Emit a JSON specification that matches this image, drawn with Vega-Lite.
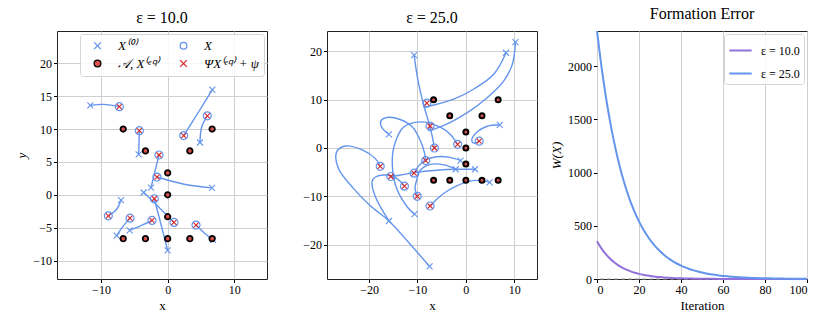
{
"$schema": "https://vega.github.io/schema/vega-lite/v6.json",
"padding": {"left": 15, "top": 5, "right": 5, "bottom": 5},
"spacing": 60,
"bounds": "flush",
"resolve": {"scale": {"shape": "independent", "fill": "independent", "stroke": "independent", "size": "independent", "strokeWidth": "independent"}, "legend": {"shape": "independent", "fill": "independent", "stroke": "independent"}},
"config": {
  "font": "Liberation Serif",
  "view": {"stroke": "#222222", "strokeWidth": 1},
  "axis": {"labelFont": "Liberation Serif", "labelFontSize": 12, "labelColor": "#000000", "titleFont": "Liberation Serif", "titleFontSize": 13, "titleFontWeight": "normal", "titleColor": "#000000", "tickColor": "#000000", "tickSize": 3.5, "domain": false, "gridColor": "#cfcfcf", "gridWidth": 1, "labelPadding": 2, "titlePadding": 4},
  "title": {"font": "Liberation Serif", "fontSize": 16, "fontWeight": "normal", "frame": "group", "offset": 5, "color": "#000000"},
  "legend": {"labelFont": "Liberation Serif", "labelFontSize": 12, "labelColor": "#000000"}
},
"datasets": {
  "pts1": [
    {"s":"b","x":-7.25,"y":13.4},{"s":"b","x":-4.25,"y":9.75},{"s":"b","x":2.4,"y":9.0},{"s":"b","x":5.95,"y":12.0},
    {"s":"b","x":-1.3,"y":6.05},{"s":"b","x":-1.6,"y":2.7},{"s":"b","x":0.95,"y":-4.2},{"s":"b","x":-2.0,"y":-0.6},
    {"s":"b","x":-8.9,"y":-3.2},{"s":"b","x":-5.65,"y":-3.55},{"s":"b","x":-2.35,"y":-3.9},{"s":"b","x":4.25,"y":-4.6},
    {"s":"a","x":-11.6,"y":13.6},{"s":"a","x":-4.35,"y":6.15},{"s":"a","x":6.7,"y":16.0},{"s":"a","x":4.85,"y":7.95},
    {"s":"a","x":-2.5,"y":1.1},{"s":"a","x":6.65,"y":1.05},{"s":"a","x":-3.6,"y":0.35},{"s":"a","x":0,"y":-8.45},
    {"s":"a","x":-7.0,"y":-0.8},{"s":"a","x":-7.65,"y":-6.2},{"s":"a","x":-5.7,"y":-5.4},{"s":"a","x":6.8,"y":-6.85},
    {"s":"c","x":-6.67,"y":10},{"s":"c","x":6.67,"y":10},{"s":"c","x":-3.33,"y":6.67},{"s":"c","x":3.33,"y":6.67},
    {"s":"c","x":0,"y":3.33},{"s":"c","x":0,"y":0},{"s":"c","x":0,"y":-3.33},
    {"s":"c","x":-6.67,"y":-6.67},{"s":"c","x":-3.33,"y":-6.67},{"s":"c","x":0,"y":-6.67},{"s":"c","x":3.33,"y":-6.67},{"s":"c","x":6.67,"y":-6.67},
    {"s":"d","x":-7.25,"y":13.4},{"s":"d","x":-4.25,"y":9.75},{"s":"d","x":2.4,"y":9.0},{"s":"d","x":5.95,"y":12.0},
    {"s":"d","x":-1.3,"y":6.05},{"s":"d","x":-1.6,"y":2.7},{"s":"d","x":0.95,"y":-4.2},{"s":"d","x":-2.0,"y":-0.6},
    {"s":"d","x":-8.9,"y":-3.2},{"s":"d","x":-5.65,"y":-3.55},{"s":"d","x":-2.35,"y":-3.9},{"s":"d","x":4.25,"y":-4.6}
  ],
  "tr1": [
    {"a":1,"k":0,"x":-11.6,"y":13.6},{"a":1,"k":1,"x":-9.6,"y":13.75},{"a":1,"k":2,"x":-7.25,"y":13.4},
    {"a":2,"k":0,"x":-4.35,"y":6.15},{"a":2,"k":1,"x":-4.3,"y":8.0},{"a":2,"k":2,"x":-4.25,"y":9.75},
    {"a":3,"k":0,"x":6.7,"y":16.0},{"a":3,"k":1,"x":4.7,"y":12.7},{"a":3,"k":2,"x":2.4,"y":9.0},
    {"a":4,"k":0,"x":4.85,"y":7.95},{"a":4,"k":1,"x":5.1,"y":10.3},{"a":4,"k":2,"x":5.95,"y":12.0},
    {"a":5,"k":0,"x":-2.5,"y":1.1},{"a":5,"k":1,"x":-1.9,"y":3.6},{"a":5,"k":2,"x":-1.3,"y":6.05},
    {"a":6,"k":0,"x":6.65,"y":1.05},{"a":6,"k":1,"x":2.5,"y":1.6},{"a":6,"k":2,"x":-1.6,"y":2.7},
    {"a":7,"k":0,"x":-3.6,"y":0.35},{"a":7,"k":1,"x":-1.4,"y":-1.8},{"a":7,"k":2,"x":0.95,"y":-4.2},
    {"a":8,"k":0,"x":0,"y":-8.45},{"a":8,"k":1,"x":-1.0,"y":-4.5},{"a":8,"k":2,"x":-2.0,"y":-0.6},
    {"a":9,"k":0,"x":-7.0,"y":-0.8},{"a":9,"k":1,"x":-7.65,"y":-2.2},{"a":9,"k":2,"x":-8.9,"y":-3.2},
    {"a":10,"k":0,"x":-7.65,"y":-6.2},{"a":10,"k":1,"x":-6.7,"y":-4.8},{"a":10,"k":2,"x":-5.65,"y":-3.55},
    {"a":11,"k":0,"x":-5.7,"y":-5.4},{"a":11,"k":1,"x":-4.0,"y":-4.7},{"a":11,"k":2,"x":-2.35,"y":-3.9},
    {"a":12,"k":0,"x":6.8,"y":-6.85},{"a":12,"k":1,"x":5.5,"y":-5.8},{"a":12,"k":2,"x":4.25,"y":-4.6}
  ],
  "pts2": [
    {"s":"b","x":-8.05,"y":9.3},{"s":"b","x":-7.4,"y":4.55},{"s":"b","x":-6.5,"y":0.0},{"s":"b","x":-1.7,"y":0.76},
    {"s":"b","x":2.75,"y":1.4},{"s":"b","x":-8.3,"y":-2.6},{"s":"b","x":-17.7,"y":-3.8},{"s":"b","x":-15.5,"y":-5.9},
    {"s":"b","x":-10.7,"y":-5.2},{"s":"b","x":-12.7,"y":-7.9},{"s":"b","x":-10.05,"y":-10.0},{"s":"b","x":-7.4,"y":-12.0},
    {"s":"a","x":-10.7,"y":19.2},{"s":"a","x":8.3,"y":19.7},{"s":"a","x":10.25,"y":21.9},{"s":"a","x":-15.9,"y":2.8},
    {"s":"a","x":7.0,"y":4.8},{"s":"a","x":-1.1,"y":-2.6},{"s":"a","x":-2.1,"y":-4.4},{"s":"a","x":1.9,"y":-4.4},
    {"s":"a","x":4.9,"y":-7.1},{"s":"a","x":-10.6,"y":-13.7},{"s":"a","x":-15.9,"y":-15.1},{"s":"a","x":-7.5,"y":-24.5},
    {"s":"c","x":-6.67,"y":10},{"s":"c","x":6.67,"y":10},{"s":"c","x":-3.33,"y":6.67},{"s":"c","x":3.33,"y":6.67},
    {"s":"c","x":0,"y":3.33},{"s":"c","x":0,"y":0},{"s":"c","x":0,"y":-3.33},
    {"s":"c","x":-6.67,"y":-6.67},{"s":"c","x":-3.33,"y":-6.67},{"s":"c","x":0,"y":-6.67},{"s":"c","x":3.33,"y":-6.67},{"s":"c","x":6.67,"y":-6.67},
    {"s":"d","x":-8.05,"y":9.3},{"s":"d","x":-7.4,"y":4.55},{"s":"d","x":-6.5,"y":0.0},{"s":"d","x":-1.7,"y":0.76},
    {"s":"d","x":2.75,"y":1.4},{"s":"d","x":-8.3,"y":-2.6},{"s":"d","x":-17.7,"y":-3.8},{"s":"d","x":-15.5,"y":-5.9},
    {"s":"d","x":-10.7,"y":-5.2},{"s":"d","x":-12.7,"y":-7.9},{"s":"d","x":-10.05,"y":-10.0},{"s":"d","x":-7.4,"y":-12.0}
  ],
  "tr2": [
    {"a":1,"k":0,"x":-10.7,"y":19.2},{"a":1,"k":1,"x":-9.9,"y":14.0},{"a":1,"k":2,"x":-8.8,"y":9.2},{"a":1,"k":3,"x":-7.6,"y":5.0},{"a":1,"k":4,"x":-6.9,"y":2.2},{"a":1,"k":5,"x":-6.5,"y":0.0},
    {"a":2,"k":0,"x":8.3,"y":19.7},{"a":2,"k":1,"x":5.8,"y":15.3},{"a":2,"k":2,"x":1.65,"y":12.2},{"a":2,"k":3,"x":-2.5,"y":10.1},{"a":2,"k":4,"x":-6.6,"y":8.9},{"a":2,"k":5,"x":-8.7,"y":8.5},{"a":2,"k":6,"x":-8.05,"y":9.3},
    {"a":3,"k":0,"x":10.25,"y":21.9},{"a":3,"k":1,"x":9.6,"y":17.3},{"a":3,"k":2,"x":7.85,"y":13.9},{"a":3,"k":3,"x":4.4,"y":10.4},{"a":3,"k":4,"x":0.3,"y":7.3},{"a":3,"k":5,"x":-3.2,"y":5.3},{"a":3,"k":6,"x":-6.0,"y":4.1},{"a":3,"k":7,"x":-7.7,"y":3.6},{"a":3,"k":8,"x":-7.4,"y":4.55},
    {"a":4,"k":0,"x":-15.9,"y":2.8},{"a":4,"k":1,"x":-17.4,"y":4.3},{"a":4,"k":2,"x":-17.6,"y":5.5},{"a":4,"k":3,"x":-16.3,"y":6.3},{"a":4,"k":4,"x":-13.6,"y":5.9},{"a":4,"k":5,"x":-11.0,"y":4.3},{"a":4,"k":6,"x":-9.4,"y":1.5},{"a":4,"k":7,"x":-8.6,"y":-0.8},{"a":4,"k":8,"x":-8.3,"y":-2.6},
    {"a":5,"k":0,"x":7.0,"y":4.8},{"a":5,"k":1,"x":4.4,"y":4.5},{"a":5,"k":2,"x":2.3,"y":3.3},{"a":5,"k":3,"x":1.2,"y":1.6},{"a":5,"k":4,"x":1.7,"y":1.0},{"a":5,"k":5,"x":2.75,"y":1.4},
    {"a":6,"k":0,"x":-1.1,"y":-2.6},{"a":6,"k":1,"x":-3.5,"y":-1.9},{"a":6,"k":2,"x":-6.0,"y":-1.8},{"a":6,"k":3,"x":-8.0,"y":-2.3},{"a":6,"k":4,"x":-9.6,"y":-3.5},{"a":6,"k":5,"x":-10.7,"y":-5.2},
    {"a":7,"k":0,"x":-2.1,"y":-4.4},{"a":7,"k":1,"x":-4.5,"y":-3.5},{"a":7,"k":2,"x":-7.4,"y":-3.4},{"a":7,"k":3,"x":-9.4,"y":-4.6},{"a":7,"k":4,"x":-10.1,"y":-6.4},{"a":7,"k":5,"x":-10.5,"y":-8.4},{"a":7,"k":6,"x":-10.05,"y":-10.0},
    {"a":8,"k":0,"x":1.9,"y":-4.4},{"a":8,"k":1,"x":-2.0,"y":-4.4},{"a":8,"k":2,"x":-6.0,"y":-4.6},{"a":8,"k":3,"x":-10.7,"y":-5.1},{"a":8,"k":4,"x":-13.5,"y":-5.6},{"a":8,"k":5,"x":-15.5,"y":-5.9},
    {"a":9,"k":0,"x":4.9,"y":-7.1},{"a":9,"k":1,"x":2.5,"y":-6.7},{"a":9,"k":2,"x":0.2,"y":-7.0},{"a":9,"k":3,"x":-2.0,"y":-7.9},{"a":9,"k":4,"x":-4.0,"y":-9.0},{"a":9,"k":5,"x":-5.8,"y":-10.4},{"a":9,"k":6,"x":-7.0,"y":-11.6},{"a":9,"k":7,"x":-7.4,"y":-12.0},
    {"a":10,"k":0,"x":-10.6,"y":-13.7},{"a":10,"k":1,"x":-12.1,"y":-12.2},{"a":10,"k":2,"x":-14.3,"y":-8.4},{"a":10,"k":3,"x":-15.2,"y":-3.6},{"a":10,"k":4,"x":-14.8,"y":0.5},{"a":10,"k":5,"x":-12.9,"y":4.3},{"a":10,"k":6,"x":-9.4,"y":5.4},{"a":10,"k":7,"x":-5.3,"y":4.3},{"a":10,"k":8,"x":-3.2,"y":2.8},{"a":10,"k":9,"x":-1.7,"y":0.76},
    {"a":11,"k":0,"x":-15.9,"y":-15.1},{"a":11,"k":1,"x":-18.7,"y":-10.1},{"a":11,"k":2,"x":-19.4,"y":-7.0},{"a":11,"k":3,"x":-18.7,"y":-6.0},{"a":11,"k":4,"x":-16.5,"y":-5.6},{"a":11,"k":5,"x":-14.3,"y":-6.3},{"a":11,"k":6,"x":-12.7,"y":-7.9},
    {"a":12,"k":0,"x":-7.5,"y":-24.5},{"a":12,"k":1,"x":-11.6,"y":-19.8},{"a":12,"k":2,"x":-16.0,"y":-15.0},{"a":12,"k":3,"x":-19.8,"y":-11.9},{"a":12,"k":4,"x":-23.2,"y":-8.4},{"a":12,"k":5,"x":-26.3,"y":-4.3},{"a":12,"k":6,"x":-26.7,"y":-0.8},{"a":12,"k":7,"x":-24.9,"y":0.4},{"a":12,"k":8,"x":-21.2,"y":-0.5},{"a":12,"k":9,"x":-18.7,"y":-2.2},{"a":12,"k":10,"x":-17.7,"y":-3.8}
  ],
  "loss": [
    {"t":0,"e":"10","w":355},{"t":2,"e":"10","w":290.6},{"t":4,"e":"10","w":238.0},{"t":6,"e":"10","w":194.8},{"t":8,"e":"10","w":159.5},{"t":10,"e":"10","w":130.6},
    {"t":12,"e":"10","w":106.9},{"t":14,"e":"10","w":87.5},{"t":16,"e":"10","w":71.7},{"t":18,"e":"10","w":58.7},{"t":20,"e":"10","w":48.0},{"t":22,"e":"10","w":39.3},
    {"t":24,"e":"10","w":32.2},{"t":26,"e":"10","w":26.4},{"t":28,"e":"10","w":21.6},{"t":30,"e":"10","w":17.7},{"t":32,"e":"10","w":14.5},{"t":34,"e":"10","w":11.8},
    {"t":36,"e":"10","w":9.7},{"t":38,"e":"10","w":7.9},{"t":40,"e":"10","w":6.5},{"t":42,"e":"10","w":5.3},{"t":44,"e":"10","w":4.4},{"t":46,"e":"10","w":3.6},
    {"t":48,"e":"10","w":2.9},{"t":50,"e":"10","w":2.4},{"t":52,"e":"10","w":2.0},{"t":54,"e":"10","w":1.6},{"t":56,"e":"10","w":1.3},{"t":58,"e":"10","w":1.1},
    {"t":60,"e":"10","w":0.9},{"t":62,"e":"10","w":0.7},{"t":64,"e":"10","w":0.6},{"t":66,"e":"10","w":0.5},{"t":68,"e":"10","w":0.4},{"t":70,"e":"10","w":0.3},
    {"t":72,"e":"10","w":0.27},{"t":74,"e":"10","w":0.22},{"t":76,"e":"10","w":0.18},{"t":78,"e":"10","w":0.15},{"t":80,"e":"10","w":0.12},{"t":82,"e":"10","w":0.1},
    {"t":84,"e":"10","w":0.08},{"t":86,"e":"10","w":0.07},{"t":88,"e":"10","w":0.05},{"t":90,"e":"10","w":0.04},{"t":92,"e":"10","w":0.04},{"t":94,"e":"10","w":0.03},
    {"t":96,"e":"10","w":0.02},{"t":98,"e":"10","w":0.02},{"t":100,"e":"10","w":0.02},
    {"t":0,"e":"25","w":2330},{"t":2,"e":"25","w":2013.6},{"t":4,"e":"25","w":1740.2},{"t":6,"e":"25","w":1503.9},{"t":8,"e":"25","w":1299.7},{"t":10,"e":"25","w":1123.2},
    {"t":12,"e":"25","w":970.7},{"t":14,"e":"25","w":838.9},{"t":16,"e":"25","w":725.0},{"t":18,"e":"25","w":626.5},{"t":20,"e":"25","w":541.5},{"t":22,"e":"25","w":467.9},
    {"t":24,"e":"25","w":404.4},{"t":26,"e":"25","w":349.5},{"t":28,"e":"25","w":302.0},{"t":30,"e":"25","w":261.0},{"t":32,"e":"25","w":225.6},{"t":34,"e":"25","w":194.9},
    {"t":36,"e":"25","w":168.5},{"t":38,"e":"25","w":145.6},{"t":40,"e":"25","w":125.8},{"t":42,"e":"25","w":108.7},{"t":44,"e":"25","w":94.0},{"t":46,"e":"25","w":81.2},
    {"t":48,"e":"25","w":70.2},{"t":50,"e":"25","w":60.7},{"t":52,"e":"25","w":52.4},{"t":54,"e":"25","w":45.3},{"t":56,"e":"25","w":39.2},{"t":58,"e":"25","w":33.8},
    {"t":60,"e":"25","w":29.2},{"t":62,"e":"25","w":25.3},{"t":64,"e":"25","w":21.8},{"t":66,"e":"25","w":18.9},{"t":68,"e":"25","w":16.3},{"t":70,"e":"25","w":14.1},
    {"t":72,"e":"25","w":12.2},{"t":74,"e":"25","w":10.5},{"t":76,"e":"25","w":9.1},{"t":78,"e":"25","w":7.9},{"t":80,"e":"25","w":6.8},{"t":82,"e":"25","w":5.9},
    {"t":84,"e":"25","w":5.1},{"t":86,"e":"25","w":4.4},{"t":88,"e":"25","w":3.8},{"t":90,"e":"25","w":3.3},{"t":92,"e":"25","w":2.8},{"t":94,"e":"25","w":2.4},
    {"t":96,"e":"25","w":2.1},{"t":98,"e":"25","w":1.8},{"t":100,"e":"25","w":1.6}
  ]
},
"hconcat": [
  {
    "width": 210, "height": 248,
    "title": {"text": "ε = 10.0"},
    "layer": [
      {
        "data": {"name": "tr1"},
        "mark": {"type": "line", "interpolate": "catmull-rom", "color": "#6495ED", "strokeWidth": 1.4},
        "encoding": {
          "x": {"field": "x", "type": "quantitative", "scale": {"domain": [-16.6, 14.9], "nice": false, "zero": false}, "axis": {"values": [-10, 0, 10], "title": "x", "format": "d"}},
          "y": {"field": "y", "type": "quantitative", "scale": {"domain": [-12.8, 24.9], "nice": false, "zero": false}, "axis": {"values": [-10, -5, 0, 5, 10, 15, 20], "title": "y", "titleFontStyle": "italic", "format": "d"}},
          "detail": {"field": "a", "type": "nominal"},
          "order": {"field": "k", "type": "quantitative"}
        }
      },
      {
        "data": {"name": "pts1"},
        "mark": {"type": "point", "opacity": 1},
        "encoding": {
          "x": {"field": "x", "type": "quantitative"},
          "y": {"field": "y", "type": "quantitative"},
          "shape": {"field": "s", "type": "nominal", "scale": {"domain": ["a", "c", "b", "d"], "range": ["M-1,-1L1,1M-1,1L1,-1", "circle", "circle", "M-1,-1L1,1M-1,1L1,-1"]},
            "legend": {"title": null, "orient": "top-right", "columns": 2, "offset": 3, "padding": 5, "fillColor": "rgba(255,255,255,0.85)", "strokeColor": "#d5d5d5", "cornerRadius": 3, "labelFontStyle": "italic", "labelFontSize": 13, "labelOffset": 14, "columnPadding": 12, "rowPadding": 4, "symbolOffset": 6, "symbolSize": 45, "symbolStrokeWidth": 1.3,
              "labelExpr": "datum.value === 'a' ? 'X⁽⁰⁾' : datum.value === 'b' ? 'X' : datum.value === 'c' ? '𝒜, X⁽ᵉ𐞥⁾' : 'ΨX⁽ᵉ𐞥⁾ + ψ'"}},
          "fill": {"field": "s", "type": "nominal", "scale": {"domain": ["a", "c", "b", "d"], "range": ["transparent", "#d8504d", "transparent", "transparent"]},
            "legend": {"title": null, "orient": "top-right", "columns": 2, "offset": 3, "padding": 5, "fillColor": "rgba(255,255,255,0.85)", "strokeColor": "#d5d5d5", "cornerRadius": 3, "labelFontStyle": "italic", "labelFontSize": 13, "labelOffset": 14, "columnPadding": 12, "rowPadding": 4, "symbolOffset": 6, "symbolSize": 45, "symbolStrokeWidth": 1.3,
              "labelExpr": "datum.value === 'a' ? 'X⁽⁰⁾' : datum.value === 'b' ? 'X' : datum.value === 'c' ? '𝒜, X⁽ᵉ𐞥⁾' : 'ΨX⁽ᵉ𐞥⁾ + ψ'"}},
          "stroke": {"field": "s", "type": "nominal", "scale": {"domain": ["a", "c", "b", "d"], "range": ["#6495ED", "#000000", "#6495ED", "#d62728"]},
            "legend": {"title": null, "orient": "top-right", "columns": 2, "offset": 3, "padding": 5, "fillColor": "rgba(255,255,255,0.85)", "strokeColor": "#d5d5d5", "cornerRadius": 3, "labelFontStyle": "italic", "labelFontSize": 13, "labelOffset": 14, "columnPadding": 12, "rowPadding": 4, "symbolOffset": 6, "symbolSize": 45, "symbolStrokeWidth": 1.3,
              "labelExpr": "datum.value === 'a' ? 'X⁽⁰⁾' : datum.value === 'b' ? 'X' : datum.value === 'c' ? '𝒜, X⁽ᵉ𐞥⁾' : 'ΨX⁽ᵉ𐞥⁾ + ψ'"}},
          "size": {"condition": [{"test": "datum.s === 'b'", "value": 64}, {"test": "datum.s === 'c'", "value": 30}, {"test": "datum.s === 'd'", "value": 25}], "value": 36},
          "strokeWidth": {"condition": [{"test": "datum.s === 'b'", "value": 1.2}, {"test": "datum.s === 'c'", "value": 1.8}], "value": 1.1}
        }
      }
    ]
  },
  {
    "width": 210, "height": 248,
    "title": {"text": "ε = 25.0"},
    "layer": [
      {
        "data": {"name": "tr2"},
        "mark": {"type": "line", "interpolate": "catmull-rom", "color": "#6495ED", "strokeWidth": 1.4},
        "encoding": {
          "x": {"field": "x", "type": "quantitative", "scale": {"domain": [-28.7, 14.7], "nice": false, "zero": false}, "axis": {"values": [-20, -10, 0, 10], "title": "x", "format": "d"}},
          "y": {"field": "y", "type": "quantitative", "scale": {"domain": [-27.1, 24.2], "nice": false, "zero": false}, "axis": {"values": [-20, -10, 0, 10, 20], "title": null, "format": "d"}},
          "detail": {"field": "a", "type": "nominal"},
          "order": {"field": "k", "type": "quantitative"}
        }
      },
      {
        "data": {"name": "pts2"},
        "mark": {"type": "point", "opacity": 1},
        "encoding": {
          "x": {"field": "x", "type": "quantitative"},
          "y": {"field": "y", "type": "quantitative"},
          "shape": {"field": "s", "type": "nominal", "scale": {"domain": ["a", "b", "c", "d"], "range": ["M-1,-1L1,1M-1,1L1,-1", "circle", "circle", "M-1,-1L1,1M-1,1L1,-1"]}, "legend": null},
          "fill": {"field": "s", "type": "nominal", "scale": {"domain": ["a", "b", "c", "d"], "range": ["transparent", "transparent", "#d8504d", "transparent"]}, "legend": null},
          "stroke": {"field": "s", "type": "nominal", "scale": {"domain": ["a", "b", "c", "d"], "range": ["#6495ED", "#6495ED", "#000000", "#d62728"]}, "legend": null},
          "size": {"condition": [{"test": "datum.s === 'b'", "value": 64}, {"test": "datum.s === 'c'", "value": 25}, {"test": "datum.s === 'd'", "value": 25}], "value": 36},
          "strokeWidth": {"condition": [{"test": "datum.s === 'b'", "value": 1.2}, {"test": "datum.s === 'c'", "value": 2}], "value": 1.1}
        }
      }
    ]
  },
  {
    "width": 210, "height": 248,
    "title": {"text": "Formation Error"},
    "layer": [
      {
        "data": {"values": [{}]},
        "mark": {"type": "rule", "strokeDash": [4, 3], "color": "#999999", "strokeWidth": 1},
        "encoding": {"y": {"datum": 0, "type": "quantitative", "scale": {"domain": [0, 2330], "nice": false, "zero": false}}}
      },
      {
        "data": {"name": "loss"},
        "mark": {"type": "line", "interpolate": "monotone", "strokeWidth": 2},
        "encoding": {
          "x": {"field": "t", "type": "quantitative", "scale": {"domain": [0, 100], "nice": false}, "axis": {"values": [0, 20, 40, 60, 80, 100], "title": "Iteration", "format": "d"}},
          "y": {"field": "w", "type": "quantitative", "scale": {"domain": [0, 2330], "nice": false, "zero": false}, "axis": {"values": [0, 500, 1000, 1500, 2000], "title": "W(X)", "titleFontStyle": "italic", "format": "d"}},
          "stroke": {"field": "e", "type": "nominal", "scale": {"domain": ["10", "25"], "range": ["#9370DB", "#6495ED"]},
            "legend": {"title": null, "orient": "top-right", "offset": 3, "padding": 4, "fillColor": "rgba(255,255,255,0.85)", "strokeColor": "#d5d5d5", "cornerRadius": 3, "symbolType": "stroke", "symbolSize": 500, "symbolStrokeWidth": 2, "rowPadding": 4, "labelOffset": 8, "labelExpr": "'ε = ' + datum.value + '.0'"}}
        }
      }
    ]
  }
]
}
